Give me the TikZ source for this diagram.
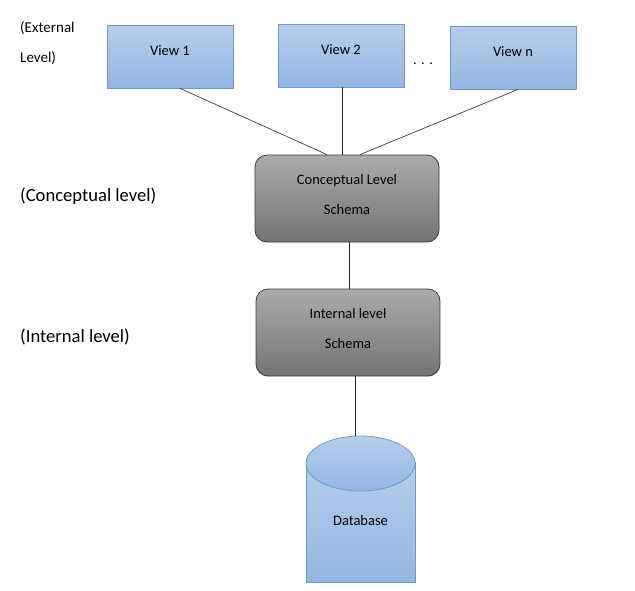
\documentclass[tikz,border=0pt]{standalone}
\usepackage{fontspec}
\setmainfont{Carlito}
\usetikzlibrary{positioning}

\definecolor{viewtop}{HTML}{B6CEEB}
\definecolor{viewbot}{HTML}{93B6E2}
\definecolor{viewline}{HTML}{6A9AD0}
\definecolor{schemtop}{HTML}{ABABAB}
\definecolor{schembot}{HTML}{737373}
\definecolor{schemline}{HTML}{3A3A3A}

\begin{document}
\begin{tikzpicture}[
  x=1pt, y=-1pt,
  font=\fontsize{14.5}{16}\selectfont,
  view/.style={rectangle, draw=viewline, line width=0.8pt, minimum width=126pt, minimum height=63pt,
    top color=viewtop, bottom color=viewbot, inner sep=0pt, text height=10pt, text depth=12pt},
  schemabox/.style={rectangle, rounded corners=12pt, draw=schemline, line width=0.8pt,
    minimum width=184pt, minimum height=87pt, top color=schemtop, bottom color=schembot,
    align=center, font=\fontsize{14.5}{30}\selectfont, text depth=9pt, inner sep=0pt},
  levellabel/.style={anchor=west, inner sep=0pt, font=\fontsize{18.6}{20}\selectfont},
  edge/.style={draw=black!85, line width=0.6pt}
]
\useasboundingbox (0,0) rectangle (635,590);

% external level
\node (v1) at (170,56.5) [view] {View 1};
\node (v2) at (341,55.5) [view] {View 2};
\node (vn) at (513,57.5) [view] {View n};
\node (dots) at (423,64) {.\hspace{4.5pt}.\hspace{4.5pt}.};
\node (extlbl) at (20,43) [anchor=west, inner sep=0pt, align=left, font=\fontsize{15}{30}\selectfont] {(External\\Level)};

% conceptual and internal level
\node (concept) at (347,198.5) [schemabox] {Conceptual Level\\Schema};
\node (intl) at (348,332.5) [schemabox] {Internal level\\Schema};
\node (conlbl) at (20,196) [levellabel] {(Conceptual level)};
\node (intlbl) at (20,337) [levellabel] {(Internal level)};

% database
\draw[draw=viewline, line width=0.8pt, top color=viewtop, bottom color=viewbot]
  (306,462) -- (306,582) -- (415,582) -- (415,462);
\draw[draw=viewline, line width=0.8pt, top color=viewtop, bottom color=viewbot]
  (360.5,463.5) ellipse [x radius=54.5, y radius=27.5];
\coordinate (dbtop) at (355,436);
\node (db) at (360.5,521) {Database};

% connectors
\draw[edge] ([xshift=10pt]v1.south) -- ([xshift=-20pt]concept.north);
\draw[edge] ([xshift=1pt]v2.south) -- ([xshift=-5pt]concept.north);
\draw[edge] ([xshift=5pt]vn.south) -- ([xshift=13pt]concept.north);
\draw[edge] ([xshift=2pt]concept.south) -- ([xshift=1pt]intl.north);
\draw[edge] (intl.south -| dbtop) -- (dbtop);
\end{tikzpicture}
\end{document}
